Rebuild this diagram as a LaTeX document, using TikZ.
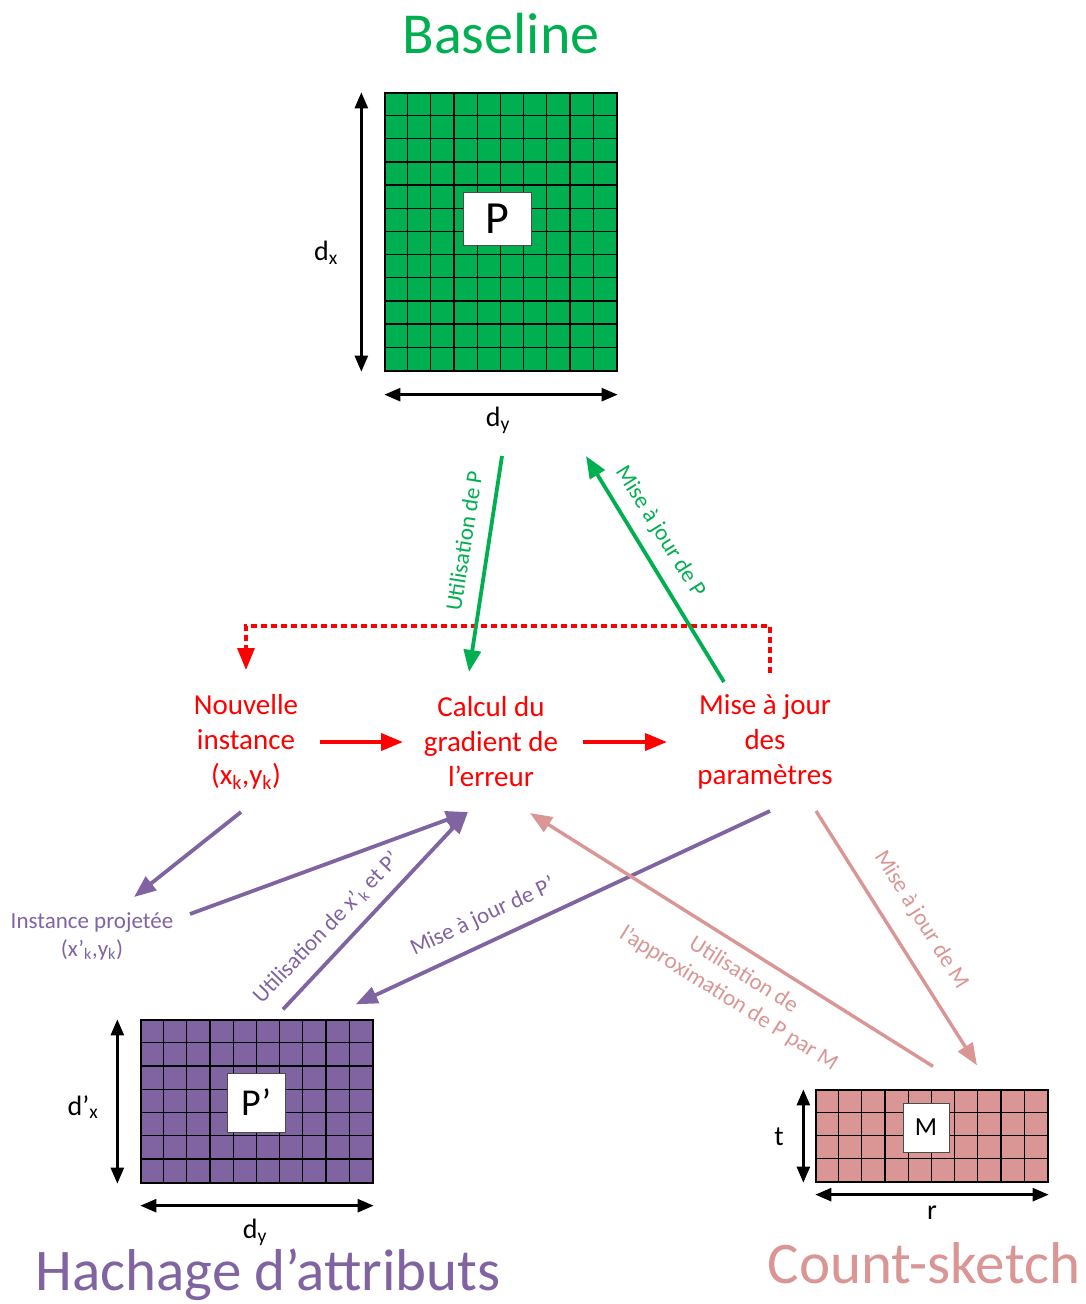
\documentclass[tikz,border=0pt]{standalone}
\usepackage{fontspec}
\setmainfont{Carlito}
\usetikzlibrary{positioning}
\usetikzlibrary{calc}
\usetikzlibrary{arrows.meta}
\definecolor{basegreen}{HTML}{00B050}
\definecolor{hachage}{HTML}{8064A2}
\definecolor{sketch}{HTML}{D99694}
\tikzset{
  gridbox/.style={draw=black, line width=1.3pt, inner sep=0pt},
  namebox/.style={draw=black!70, line width=1pt, fill=white, inner sep=0pt},
  dimarrow/.style={{Triangle[length=16pt,width=13pt]}-{Triangle[length=16pt,width=13pt]}, line width=2.5pt},
  flowarrow/.style={-{Triangle[length=22pt,width=17pt]}, line width=3.8pt},
  titletext/.style={anchor=base, font=\fontsize{59}{60}\selectfont},
  stagetext/.style={text=red, align=center, inner sep=0pt, font=\fontsize{29}{35}\selectfont},
  edgetext/.style={align=center, inner sep=0pt, font=\fontsize{23}{28}\selectfont},
  dimtext/.style={inner sep=0pt, font=\fontsize{28}{28}\selectfont}
}
\begin{document}
\begin{tikzpicture}[x=1pt, y=-1pt]
    \useasboundingbox (0,0) rectangle (1086,1304);

    % baseline
    \node[titletext, text=basegreen, font=\fontsize{58}{60}\selectfont] (tbase) at (501,53) {Baseline};
    \node[gridbox, fill=basegreen, minimum width=232pt, minimum height=278pt] (P) at (501,232) {};
    \foreach \i in {1,...,9}
      \draw[line width=1.3pt] ($(P.north west)+(\i*23.2,0)$) -- ++(0,278);
    \foreach \j in {1,...,11}
      \draw[line width=1.3pt] ($(P.north west)+(0,\j*23.17)$) -- ++(232,0);
    \node[namebox, minimum width=68pt, minimum height=53pt, font=\fontsize{46}{46}\selectfont] (Pname) at (497,218.5) {P};
    \draw[dimarrow] ([xshift=-23pt]P.north west) -- ([xshift=-23pt]P.south west);
    \draw[dimarrow] ([yshift=-23pt]P.south west) -- ([yshift=-23pt]P.south east);
    \node[dimtext] (Pdx) at (326,253) {d\textsubscript{x}};
    \node[dimtext] (Pdy) at (498,420) {d\textsubscript{y}};

    % boucle
    \node[stagetext] (nouv) at (246,742) {Nouvelle\\instance\\(x\textsubscript{k},y\textsubscript{k})};
    \node[stagetext] (calc) at (491,742) {Calcul du\\gradient de\\l’erreur};
    \node[stagetext] (maj) at (765,742) {Mise à jour\\des\\paramètres};
    \draw[flowarrow, red] ($(nouv)+(74,0)$) -- ($(calc)+(-88,0)$);
    \draw[flowarrow, red] ($(calc)+(92,0)$) -- ($(maj)+(-98,0)$);
    \draw[flowarrow, red, dash pattern=on 6pt off 4pt, line width=3.3pt] ($(maj)+(5,-69)$) |- ($(nouv)+(0,-116)$) -- ($(nouv)+(0,-72)$);

    \draw[flowarrow, basegreen] ($(Pdy)+(4,36)$) -- ($(calc)+(-22,-70)$);
    \draw[flowarrow, basegreen] ($(maj)+(-41,-60)$) -- ($(Pdy)+(88,36)$);
    \node[edgetext, text=basegreen, rotate=81] (lUP) at (464,541) {Utilisation de P};
    \node[edgetext, text=basegreen, rotate=-58] (lMP) at (660,532) {Mise à jour de P};

    % hachage
    \node[titletext, text=hachage] (thach) at (268,1290) {Hachage d’attributs};
    \node[gridbox, fill=hachage, minimum width=232pt, minimum height=163pt] (Pp) at (257,1101.5) {};
    \foreach \i in {1,...,9}
      \draw[line width=1.3pt] ($(Pp.north west)+(\i*23.2,0)$) -- ++(0,163);
    \foreach \j in {1,...,6}
      \draw[line width=1.3pt] ($(Pp.north west)+(0,\j*23.29)$) -- ++(232,0);
    \node[namebox, minimum width=58pt, minimum height=59pt, font=\fontsize{38}{38}\selectfont] (Ppname) at (256,1102.5) {P’};
    \draw[dimarrow] ([xshift=-23pt]Pp.north west) -- ([xshift=-23pt]Pp.south west);
    \draw[dimarrow] ([yshift=-22pt]Pp.south west) -- ([yshift=-22pt]Pp.south east);
    \node[dimtext] (Ppdx) at (83,1107) {d’\textsubscript{x}};
    \node[dimtext] (Ppdy) at (255,1232) {d\textsubscript{y}};

    \node[edgetext, text=hachage] (proj) at (92,936) {Instance projetée\\(x’\textsubscript{k},y\textsubscript{k})};
    \draw[flowarrow, hachage] ($(nouv)+(-5,70)$) -- ($(proj)+(42,-39)$);
    \draw[flowarrow, hachage] ($(proj)+(98,-22)$) -- ($(calc)+(-23,70)$);
    \draw[flowarrow, hachage] ($(Pp.north)+(26,-10)$) -- ($(calc)+(-23,70)$);
    \draw[flowarrow, hachage] ($(maj)+(5,69)$) -- ($(Pp.north east)+(-18,-15)$);
    \node[edgetext, text=hachage, rotate=46] (lUPp) at (327,928) {Utilisation de x’\textsubscript{k} et P’};
    \node[edgetext, text=hachage, rotate=25] (lMPp) at (483,917) {Mise à jour de P’};

    % count-sketch
    \node[titletext, text=sketch] (tcount) at (924,1283) {Count-sketch};
    \node[gridbox, fill=sketch, minimum width=232pt, minimum height=92pt] (M) at (932,1136) {};
    \foreach \i in {1,...,9}
      \draw[line width=1.3pt] ($(M.north west)+(\i*23.2,0)$) -- ++(0,92);
    \foreach \j in {1,...,3}
      \draw[line width=1.3pt] ($(M.north west)+(0,\j*23)$) -- ++(232,0);
    \node[namebox, minimum width=46pt, minimum height=49pt, font=\fontsize{26}{26}\selectfont] (Mname) at (926,1127.5) {M};
    \draw[dimarrow] ([xshift=-12pt]M.north west) -- ([xshift=-12pt]M.south west);
    \draw[dimarrow] ([yshift=-12pt]M.south west) -- ([yshift=-12pt]M.south east);
    \node[dimtext] (Mt) at (779,1137) {t};
    \node[dimtext] (Mr) at (932,1213) {r};

    \draw[flowarrow, sketch, line width=3.4pt] ($(M.north)+(1,-23)$) -- ($(calc)+(39,71)$);
    \draw[flowarrow, sketch, line width=3.4pt] ($(maj)+(51,69)$) -- ($(M.north)+(45,-24)$);
    \node[edgetext, text=sketch, rotate=-32] (lUM) at (736,987) {Utilisation de\\l’approximation de P par M};
    \node[edgetext, text=sketch, rotate=-58] (lMM) at (921,920) {Mise à jour de M};
\end{tikzpicture}
\end{document}
